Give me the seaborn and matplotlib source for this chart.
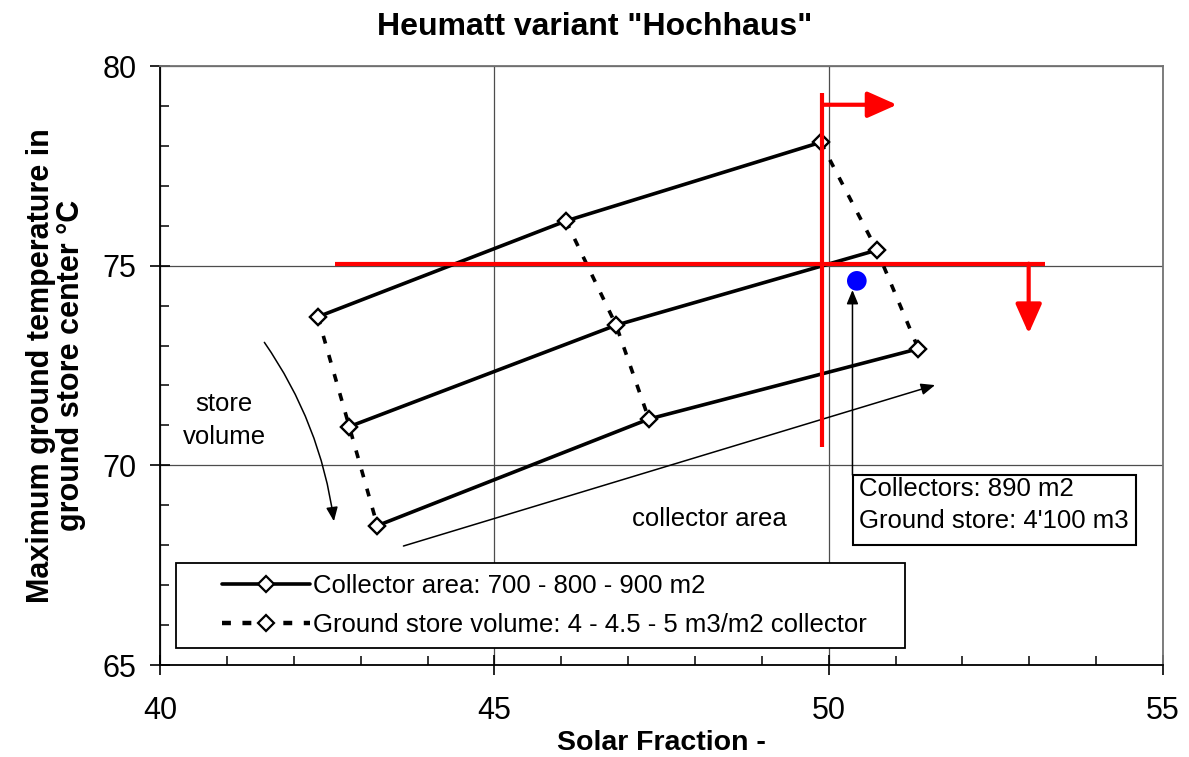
import pandas as pd
import seaborn as sns
import matplotlib.pyplot as plt
from matplotlib.ticker import MultipleLocator
from matplotlib.lines import Line2D
from matplotlib.patches import Rectangle

# data
collector_area = [700, 800, 900]          # m2
store_volume = [4.0, 4.5, 5.0]            # m3 per m2 collector
sf_vol_4 = [42.36, 46.07, 49.88]
temp_vol_4 = [73.72, 76.12, 78.09]
sf_vol_45 = [42.83, 46.82, 50.72]
temp_vol_45 = [70.97, 73.51, 75.39]
sf_vol_5 = [43.25, 47.31, 51.34]
temp_vol_5 = [68.49, 71.16, 72.92]

chosen_sf = [50.42]
chosen_temp = [74.62]

target_sf = 49.9
target_temp = 75.05

rows = []
for vol, sf, tmp in zip(store_volume, [sf_vol_4, sf_vol_45, sf_vol_5],
                        [temp_vol_4, temp_vol_45, temp_vol_5]):
    for area, s, t in zip(collector_area, sf, tmp):
        rows.append({'area': area, 'volume': vol, 'sf': s, 'temp': t})
df = pd.DataFrame(rows)

sns.set_style('ticks')
plt.rcParams['font.family'] = ['Liberation Sans', 'DejaVu Sans']
plt.rcParams['text.color'] = 'black'
plt.rcParams['axes.labelcolor'] = 'black'
plt.rcParams['xtick.color'] = 'black'
plt.rcParams['ytick.color'] = 'black'

fig = plt.figure(figsize=(11.89, 7.57), dpi=100)
ax = fig.add_axes([0.1346, 0.1215, 0.8436, 0.7913])

marker_kw = dict(marker='D', markersize=8.5, markerfacecolor='white',
                 markeredgecolor='black', markeredgewidth=1.6)
dash = (0, (2.2, 3.3))

# store volume lines (dotted), one per collector area
sns.lineplot(data=df, x='sf', y='temp', units='area', estimator=None, sort=False,
             color='black', lw=2.6, linestyle=dash, ax=ax, zorder=3, **marker_kw)
# collector area lines (solid), one per store volume
sns.lineplot(data=df, x='sf', y='temp', units='volume', estimator=None, sort=False,
             color='black', lw=2.6, ax=ax, zorder=4, **marker_kw)

sns.scatterplot(x=chosen_sf, y=chosen_temp, s=200, color='#0000ff', edgecolor='none',
                ax=ax, zorder=5)

# red reading lines
ax.plot([target_sf, target_sf], [70.47, 79.33], color='red', lw=3, zorder=6,
        solid_capstyle='butt')
ax.plot([42.62, 53.23], [target_temp, target_temp], color='red', lw=3, zorder=6,
        solid_capstyle='butt')
ax.annotate('', xy=(51.02, 79.03), xytext=(target_sf, 79.03),
            arrowprops=dict(arrowstyle='-|>,head_length=0.9,head_width=0.4',
                            color='red', lw=3, shrinkA=0, shrinkB=0,
                            mutation_scale=20), zorder=6)
ax.annotate('', xy=(52.99, 73.3), xytext=(52.99, target_temp),
            arrowprops=dict(arrowstyle='-|>,head_length=0.9,head_width=0.4',
                            color='red', lw=3, shrinkA=0, shrinkB=0,
                            mutation_scale=20), zorder=6)

# trend arrows and labels
ax.annotate('', xy=(51.59, 72.01), xytext=(43.64, 67.98),
            arrowprops=dict(arrowstyle='-|>,head_length=0.6,head_width=0.25',
                            color='black', lw=1.1, shrinkA=0, shrinkB=0,
                            mutation_scale=14))
ax.annotate('', xy=(42.6, 68.6), xytext=(41.56, 73.08),
            arrowprops=dict(arrowstyle='-|>,head_length=0.6,head_width=0.25',
                            color='black', lw=1.1, shrinkA=0, shrinkB=0,
                            mutation_scale=14, connectionstyle='arc3,rad=-0.12'))
ax.text(40.96, 71.13, 'store\nvolume', ha='center', va='center', fontsize=18.5,
        linespacing=1.45)
ax.text(48.21, 68.65, 'collector area', ha='center', va='center', fontsize=18.5)

# chosen variant box
ax.add_patch(Rectangle((50.363, 68.004), 54.595 - 50.363, 69.757 - 68.004,
                       facecolor='white', edgecolor='black', lw=1.5, zorder=7))
ax.text(50.46, 69.72, "Collectors: 890 m2\nGround store: 4'100 m3", ha='left',
        va='top', fontsize=18.5, linespacing=1.45, zorder=8)
ax.annotate('', xy=(50.355, 74.39), xytext=(50.355, 69.757),
            arrowprops=dict(arrowstyle='-|>,head_length=0.6,head_width=0.25',
                            color='black', lw=1.1, shrinkA=0, shrinkB=0,
                            mutation_scale=14), zorder=6)

# legend with separate frame
ax.add_patch(Rectangle((0.016, 0.0284), 0.727, 0.1416, transform=ax.transAxes,
                       facecolor='white', edgecolor='black', lw=1.3, zorder=8))
handles = [Line2D([], [], color='black', lw=2.6, **marker_kw),
           Line2D([], [], color='black', lw=3.2, linestyle=(0, (2, 2.6)), **marker_kw)]
labels = ['Collector area: 700 - 800 - 900 m2',
          'Ground store volume: 4 - 4.5 - 5 m3/m2 collector']
leg = ax.legend(handles, labels, loc='center left', bbox_to_anchor=(0.062, 0.0995),
                frameon=False, fontsize=18.5, handlelength=3.4, handletextpad=0.15,
                labelspacing=0.6, borderpad=0, borderaxespad=0)
leg.set_zorder(9)

ax.set_xlim(40, 55)
ax.set_ylim(65, 80)
ax.set_xticks([40, 45, 50, 55])
ax.set_yticks([65, 70, 75, 80])
ax.xaxis.set_minor_locator(MultipleLocator(1))
ax.yaxis.set_minor_locator(MultipleLocator(1))
ax.tick_params(which='major', direction='inout', length=14, width=1.2,
               labelsize=22, color='black', labelcolor='black')
ax.tick_params(axis='x', which='major', pad=15)
ax.tick_params(axis='y', which='major', pad=10)
ax.tick_params(which='minor', direction='in', length=6.5, width=1.1, color='black')
ax.grid(True, which='major', color='0.3', lw=0.9)
ax.set_axisbelow(True)
for side in ['left', 'bottom']:
    ax.spines[side].set_color('black')
    ax.spines[side].set_linewidth(1.3)
for side in ['top', 'right']:
    ax.spines[side].set_color('0.45')
    ax.spines[side].set_linewidth(1.3)

ax.set_xlabel('Solar Fraction -', fontsize=20.5, fontweight='bold', color='black')
ax.set_ylabel('Maximum ground temperature in\nground store center °C', fontsize=22,
              fontweight='bold', linespacing=1.0, color='black')
ax.xaxis.set_label_coords(0.5, -0.108)
ax.yaxis.set_label_coords(-0.074, 0.5)

fig.text(0.5, 1 - 35 / 757, 'Heumatt variant "Hochhaus"', ha='center',
         va='baseline', fontsize=23, fontweight='bold', color='black')

fig.savefig('out.png', dpi=100)
